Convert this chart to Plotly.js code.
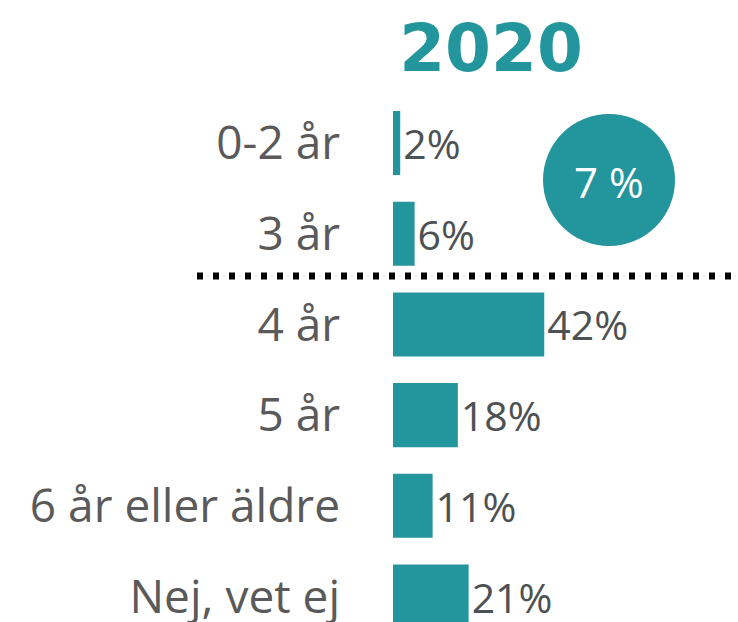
<!DOCTYPE html>
<html>
<head>
<meta charset="utf-8">
<script src="https://cdn.plot.ly/plotly-3.0.1.min.js"></script>
<style>html,body{margin:0;padding:0;background:#fff;}</style>
</head>
<body>
<div id="chart" style="width:738px;height:622px;"></div>
<script>
const categories = ["0-2 år", "3 år", "4 år", "5 år", "6 år eller äldre", "Nej, vet ej"];
const values = [2, 6, 42, 18, 11, 21];
const titleText = "2020";
const highlightText = "7 %";

const teal = "#23959c";
const FONT = "Open Sans, Lato, sans-serif";

const trace = {
  type: "bar",
  orientation: "h",
  y: categories,
  x: values,
  width: 0.706,
  marker: { color: teal },
  text: values.map(v => v + "%"),
  textposition: "outside",
  textfont: { family: FONT, size: 41, color: "#4d5153" },
  cliponaxis: false,
  hoverinfo: "skip"
};

const layout = {
  width: 738,
  height: 622,
  margin: { l: 393, r: 0, t: 0, b: 0 },
  paper_bgcolor: "#ffffff",
  plot_bgcolor: "#ffffff",
  showlegend: false,
  title: {
    text: "<b>" + titleText + "</b>",
    xref: "container", yref: "container",
    x: 491 / 738, y: 1 - 48 / 622,
    xanchor: "center", yanchor: "middle",
    font: { family: "DejaVu Sans, sans-serif", size: 66, color: teal, weight: 700 }
  },
  xaxis: {
    range: [0, 95.8],
    visible: false,
    showgrid: false,
    zeroline: false,
    fixedrange: true
  },
  yaxis: {
    type: "category",
    categoryorder: "array",
    categoryarray: categories,
    range: [5.281, -1.577],
    autorange: false,
    showgrid: false,
    zeroline: false,
    showline: false,
    ticks: "",
    ticklabelstandoff: 52,
    tickfont: { family: FONT, size: 46, color: "#5a5a5a" },
    fixedrange: true
  },
  shapes: [
    {
      type: "line",
      xref: "paper", yref: "paper",
      x0: (197 - 393) / 345, x1: (736 - 393) / 345,
      y0: 1 - 276 / 622, y1: 1 - 276 / 622,
      line: { color: "#000000", width: 7, dash: "6px,10px" }
    },
    {
      type: "circle",
      xref: "paper", yref: "paper",
      x0: (543 - 393) / 345, x1: (675 - 393) / 345,
      y0: 1 - 246 / 622, y1: 1 - 114 / 622,
      fillcolor: teal,
      line: { width: 0 }
    }
  ],
  annotations: [
    {
      xref: "paper", yref: "paper",
      x: (609 - 393) / 345, y: 1 - 182 / 622,
      xanchor: "center", yanchor: "middle",
      text: highlightText,
      showarrow: false,
      font: { family: FONT, size: 42, color: "#ffffff" }
    }
  ]
};

Plotly.newPlot("chart", [trace], layout, { displayModeBar: false, staticPlot: true });
</script>
</body>
</html>
